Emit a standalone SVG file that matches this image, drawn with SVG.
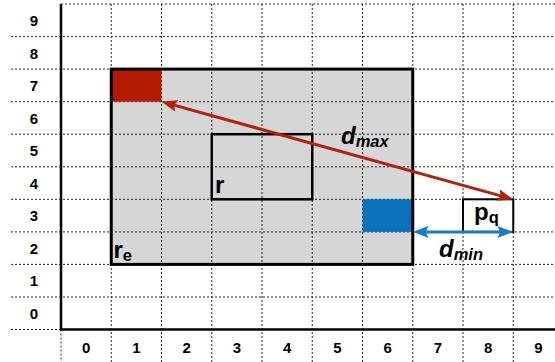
<svg xmlns="http://www.w3.org/2000/svg" width="555" height="362" viewBox="0 0 555 362">
<style>
.grid{stroke:#222;stroke-width:1;stroke-dasharray:2,2;fill:none}
.axis{stroke:#000;stroke-width:2.5;fill:none}
.lbl{font-family:"Liberation Sans",Arial,sans-serif;font-weight:bold;font-size:15px;fill:#000;text-anchor:middle}
.big{font-family:"Liberation Sans",Arial,sans-serif;font-weight:bold;font-size:24px;fill:#000}
.sub{font-size:16.5px}
.it{font-style:italic}
</style>
<defs>
<marker id="ahR" viewBox="0 0 16 12" refX="5" refY="6" markerWidth="16" markerHeight="12" markerUnits="userSpaceOnUse" orient="auto-start-reverse"><path d="M0,0 L16,6 L0,12 L3,6 z" fill="#b3200e"/></marker>
<marker id="ahB" viewBox="0 0 16 12" refX="5" refY="6" markerWidth="16" markerHeight="12" markerUnits="userSpaceOnUse" orient="auto-start-reverse"><path d="M0,0 L16,6 L0,12 L3,6 z" fill="#1a7cc2"/></marker>
</defs>
<rect width="555" height="362" fill="#fff"/>
<g id="re-fill"><rect x="111.25" y="69.1" width="301.5" height="195.3" fill="#d6d6d6"/></g>
<g id="grid">
<path class="grid" d="M61,4H555 M11,36.6H555 M11,69.1H555 M11,101.7H555 M11,134.2H555 M11,166.8H555 M11,199.3H555 M11,231.9H555 M11,264.4H555 M11,297H555 M11,329.5H61"/>
<path class="grid" d="M61,329.5V362 M111.25,4V362 M161.5,4V362 M211.75,4V362 M262,4V362 M312.25,4V362 M362.5,4V362 M412.75,4V362 M463,4V362 M513.25,4V362"/>
</g>
<g id="cells">
<rect x="111.25" y="69.1" width="50.25" height="32.6" fill="#b41a00"/>
<rect x="362.5" y="199.3" width="50.25" height="32.6" fill="#0a71bb"/>
</g>
<g id="axes"><path class="axis" d="M61,4V329.5H555"/></g>
<g id="ylabels">
<text class="lbl" x="34" y="26">9</text>
<text class="lbl" x="34" y="58.5">8</text>
<text class="lbl" x="34" y="91">7</text>
<text class="lbl" x="34" y="123.5">6</text>
<text class="lbl" x="34" y="156">5</text>
<text class="lbl" x="34" y="188.5">4</text>
<text class="lbl" x="34" y="221">3</text>
<text class="lbl" x="34" y="253.5">2</text>
<text class="lbl" x="34" y="286">1</text>
<text class="lbl" x="34" y="318.5">0</text>
</g>
<g id="xlabels">
<text class="lbl" x="86.1" y="353">0</text>
<text class="lbl" x="136.4" y="353">1</text>
<text class="lbl" x="186.6" y="353">2</text>
<text class="lbl" x="236.9" y="353">3</text>
<text class="lbl" x="287.1" y="353">4</text>
<text class="lbl" x="337.4" y="353">5</text>
<text class="lbl" x="387.6" y="353">6</text>
<text class="lbl" x="437.9" y="353">7</text>
<text class="lbl" x="488.1" y="353">8</text>
<text class="lbl" x="538.4" y="353">9</text>
</g>
<g id="re">
<rect x="111.25" y="69.1" width="301.5" height="195.3" fill="none" stroke="#000" stroke-width="3"/>
<text class="big" x="113.5" y="258">r<tspan class="sub" dy="3">e</tspan></text>
</g>
<g id="r">
<rect x="211.75" y="134.2" width="100.5" height="65.1" fill="none" stroke="#000" stroke-width="2.5"/>
<text class="big" x="215" y="192.5">r</text>
</g>
<g id="pq">
<rect x="463" y="199.3" width="50.25" height="32.6" fill="#fff" stroke="#000" stroke-width="2"/>
<text class="big" x="474" y="219.5">p<tspan class="sub" dy="3">q</tspan></text>
</g>
<g id="connectors">
<line x1="172.1" y1="104.6" x2="502.7" y2="196.4" stroke="#b3200e" stroke-width="3" marker-start="url(#ahR)" marker-end="url(#ahR)"/>
<line x1="423.7" y1="231.9" x2="502.3" y2="231.9" stroke="#1a7cc2" stroke-width="3" marker-start="url(#ahB)" marker-end="url(#ahB)"/>
</g>
<g id="labels">
<text class="big it" x="341" y="143.5">d<tspan class="sub" dy="3">max</tspan></text>
<text class="big it" x="439" y="257">d<tspan class="sub" dy="3">min</tspan></text>
</g>
</svg>
